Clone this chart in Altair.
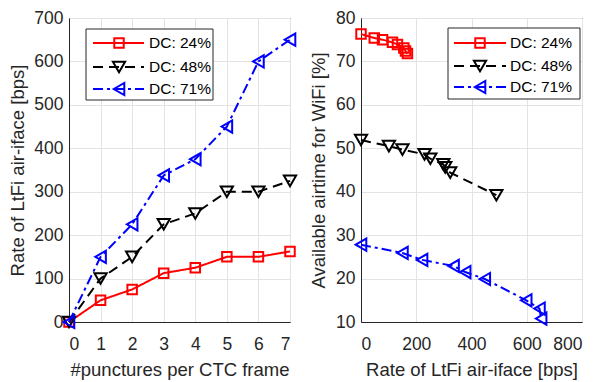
import altair as alt
import pandas as pd

series = ["DC: 24%", "DC: 48%", "DC: 71%"]
colors = ["#ff0000", "#000000", "#0000ff"]
dashes = [[1, 0], [10, 6], [10, 4, 3, 4]]
shapes = ["square", "triangle-down", "triangle-left"]
sizes = [90, 150, 150]

# Left panel: rate vs punctures
punctures = [0, 1, 2, 3, 4, 5, 6, 7]
rate_24 = [0, 50, 75, 112.5, 125, 150, 150, 162.5]
rate_48 = [0, 100, 150, 225, 250, 300, 300, 325]
rate_71 = [0, 150, 225, 337.5, 375, 450, 600, 650]

# Right panel: airtime vs rate
r24_x = [0, 48, 78, 114, 132, 155, 161, 168]
r24_y = [76.3, 75.4, 75.0, 74.4, 73.9, 73.1, 72.4, 71.8]
r48_x = [0, 101, 150, 230, 251, 298, 305, 323, 490]
r48_y = [51.9, 50.5, 49.7, 48.6, 47.6, 46.3, 45.6, 44.4, 39.2]
r71_x = [0, 150, 221, 335, 377, 448, 598, 646, 652]
r71_y = [27.8, 25.9, 24.3, 22.9, 21.5, 19.9, 15.0, 13.1, 10.8]

left_x_ticks = [0, 1, 2, 3, 4, 5, 6, 7]
left_y_ticks = [0, 100, 200, 300, 400, 500, 600, 700]
right_x_ticks = [0, 200, 400, 600, 800]
right_y_ticks = [10, 20, 30, 40, 50, 60, 70, 80]

FONT = "Liberation Sans"
AX = "#262626"
W, H = 221, 304


def make_df(xs_list, ys_list):
    rows = []
    for s, xs, ys in zip(series, xs_list, ys_list):
        for i, (a, b) in enumerate(zip(xs, ys)):
            rows.append({"series": s, "x": a, "y": b, "i": i})
    return pd.DataFrame(rows)


def panel(df, xdom, ydom, xticks, yticks, xtitle, ytitle, leg, ytp):
    xenc = alt.X("x:Q", scale=alt.Scale(domain=xdom, nice=False, zero=False),
                 axis=alt.Axis(values=xticks, title=xtitle, format="d",
                               labelPadding=13, titlePadding=8))
    yenc = alt.Y("y:Q", scale=alt.Scale(domain=ydom, nice=False, zero=False),
                 axis=alt.Axis(values=yticks, title=ytitle, format="d",
                               labelPadding=6, titlePadding=ytp))
    layers = []
    for s, c, d, sh, sz in zip(series, colors, dashes, shapes, sizes):
        sub = alt.Chart(df).transform_filter(alt.datum.series == s)
        layers.append(sub.mark_line(color=c, strokeDash=d, strokeWidth=2).encode(
            x=xenc, y=yenc, order="i:Q"))
        layers.append(sub.mark_point(color=c, shape=sh, size=sz, filled=False,
                                     strokeWidth=2, opacity=1).encode(x=xenc, y=yenc))
    # legend
    one = pd.DataFrame({"k": [0]})
    bx1, bx2, by1, by2, rows_y, lx1, lx2, mx, tx = leg
    layers.append(alt.Chart(one).mark_rect(fill="white", stroke=AX, strokeWidth=1).encode(
        x=alt.value(bx1), x2=alt.value(bx2), y=alt.value(by1), y2=alt.value(by2)))
    for s, c, d, sh, sz, ry in zip(series, colors, dashes, shapes, sizes, rows_y):
        layers.append(alt.Chart(one).mark_rule(color=c, strokeDash=d, strokeWidth=2).encode(
            x=alt.value(lx1), x2=alt.value(lx2), y=alt.value(ry)))
        layers.append(alt.Chart(one).mark_point(color=c, shape=sh, size=sz, filled=False,
                                                strokeWidth=2, opacity=1).encode(
            x=alt.value(mx), y=alt.value(ry)))
        layers.append(alt.Chart(one).mark_text(align="left", baseline="middle", fontSize=15.5,
                                               font=FONT, color="#000000").encode(
            x=alt.value(tx), y=alt.value(ry), text=alt.value(s)))
    return alt.layer(*layers).properties(width=W, height=H)


left_df = make_df([punctures] * 3, [rate_24, rate_48, rate_71])
right_df = make_df([r24_x, r48_x, r71_x], [r24_y, r48_y, r71_y])

left = panel(left_df, [0, 7], [0, 700], left_x_ticks, left_y_ticks,
             "#punctures per CTC frame", "Rate of LtFi air-iface [bps]",
             (17, 144, 11, 82, [25, 49, 71], 24, 75, 50, 80), 6)
right = panel(right_df, [0, 800], [10, 80], right_x_ticks, right_y_ticks,
              "Rate of LtFi air-iface [bps]", "Available airtime for WiFi [%]",
              (87, 219, 10, 81, [25, 48, 69], 93, 145, 119, 149), 7)

chart = alt.hconcat(left, right, spacing=8).properties(
    padding={"left": 0, "top": 0, "right": 0, "bottom": 0}
).configure_view(stroke=AX, strokeWidth=1).configure_axis(
    labelFont=FONT, titleFont=FONT, labelFontSize=17.5, titleFontSize=18.5,
    titleFontWeight="normal", labelColor=AX, titleColor=AX, domainColor=AX,
    gridColor="#e3e3e3", gridWidth=1, ticks=False
)

chart.save("out.html", embed_options={"renderer": "svg", "actions": False})
